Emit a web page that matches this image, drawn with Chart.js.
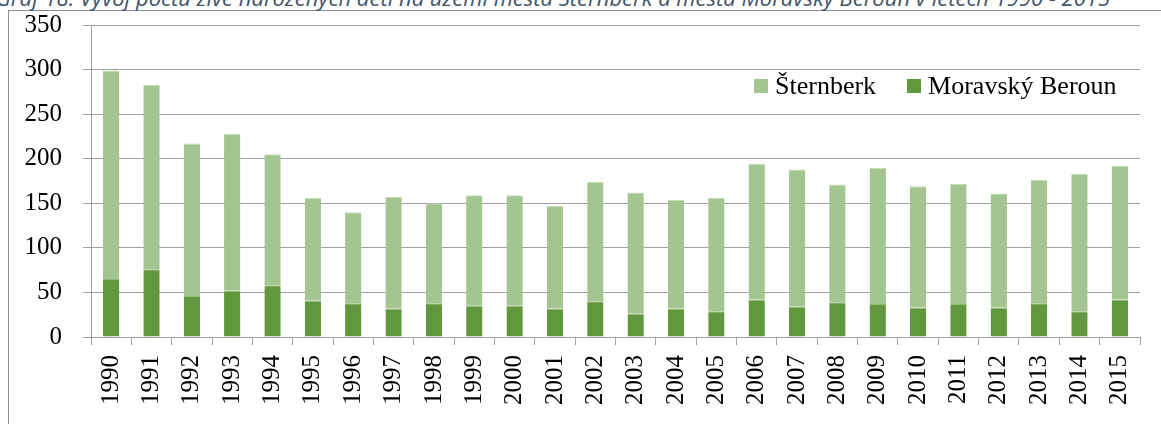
<!DOCTYPE html>
<html>
<head>
<meta charset="utf-8">
<script src="https://cdn.jsdelivr.net/npm/chart.js"></script>
<style>
  body { margin: 0; width: 1161px; height: 424px; overflow: hidden; background: #fff; position: relative; }
  #frame { position: absolute; left: 8px; top: 10px; width: 1200px; height: 500px; border: 1px solid #8c8c8c; }
  #title { position: absolute; right: 51px; top: -18px; white-space: nowrap; font-family: "Open Sans", sans-serif; font-style: italic; font-size: 22px; color: #44546a; }
  #chartBox { position: absolute; left: 0; top: 0; }
  #legend { position: absolute; top: 71px; left: 754px; font-family: "Liberation Serif", "Times New Roman", serif; font-size: 26px; color: #000; white-space: nowrap; }
  #legend span.item { display: inline-block; margin-right: 31px; }
  #legend span.box { display: inline-block; width: 14px; height: 14px; margin-right: 7px; vertical-align: 1px; }
</style>
</head>
<body>
<div id="frame"></div>
<div id="title">Graf 18: Vývoj počtu živě narozených dětí na území města Šternberk a města Moravský Beroun v letech 1990 - 2015</div>
<div id="chartBox"><canvas id="myChart" width="1161" height="424"></canvas></div>
<div id="legend"></div>
<script>
// roky na ose x
let years = ['1990', '1991', '1992', '1993', '1994', '1995', '1996', '1997', '1998', '1999', '2000', '2001', '2002',
    '2003', '2004', '2005', '2006', '2007', '2008', '2009', '2010', '2011', '2012', '2013', '2014', '2015'];

// pocty zive narozenych
let moravskyBeroun = [65, 76, 46, 52, 58, 41, 38, 32, 38, 35, 35, 32, 40, 26, 32, 29, 42, 34, 39, 37, 33, 37, 33, 38, 29, 42];
let sternberk = [234, 207, 171, 176, 147, 115, 102, 125, 112, 124, 124, 115, 134, 136, 122, 127, 152, 154, 132, 153, 136, 135, 128, 138, 154, 150];

let yTicks = [0, 50, 100, 150, 200, 250, 300, 350];

let lightGreen = '#a3c58f';
let darkGreen = '#62983d';

var ctx = document.getElementById('myChart').getContext('2d');

var myChart = new Chart(ctx, {
    type: 'bar',
    data: {
        labels: years,
        datasets: [{
            label: 'Moravský Beroun',
            data: moravskyBeroun,
            backgroundColor: darkGreen,
            borderColor: '#8fbb72',
            borderWidth: { top: 1, left: 0, right: 0, bottom: 0 },
            borderSkipped: false
        },
        {
            label: 'Šternberk',
            data: sternberk,
            backgroundColor: lightGreen,
            borderColor: '#c6dcb8',
            borderWidth: { top: 1, left: 0, right: 0, bottom: 0 },
            borderSkipped: false
        }]
    },
    options: {
        responsive: false,
        animation: false,
        categoryPercentage: 1,
        barPercentage: 0.405,
        layout: { padding: { left: 0, right: 21, top: 25, bottom: 0 } },
        plugins: {
            legend: { display: false },
            tooltip: { enabled: false }
        },
        scales: {
            x: {
                stacked: true,
                offset: true,
                grid: { offset: true, drawOnChartArea: false, drawTicks: true, tickLength: 8, color: '#a0a0a0' },
                border: { color: '#a0a0a0', width: 1 },
                ticks: {
                    autoSkip: false,
                    minRotation: 90,
                    maxRotation: 90,
                    padding: 10,
                    color: '#000',
                    font: { family: '"Liberation Serif", "Times New Roman", serif', size: 25 }
                },
                afterFit: function (scale) { scale.height = 87; }
            },
            y: {
                stacked: true,
                min: 0,
                max: 350,
                afterBuildTicks: function (scale) { scale.ticks = yTicks.map(v => ({ value: v })); },
                grid: { color: '#a0a0a0', tickLength: 8, drawTicks: true },
                border: { color: '#a0a0a0', width: 1 },
                ticks: {
                    padding: 21,
                    color: '#000',
                    font: { family: '"Liberation Serif", "Times New Roman", serif', size: 25 }
                },
                afterFit: function (scale) {
                    scale.width = 91;
                    // jinak padding popisku posune graf dolu
                    scale.paddingTop = 0;
                    scale.paddingBottom = 0;
                }
            }
        }
    }
});

// legenda uvnitr grafu, Šternberk prvni
let legendEl = document.getElementById('legend');
let order = [1, 0];
for (let i = 0; i < order.length; i++) {
    let ds = myChart.data.datasets[order[i]];
    let item = document.createElement('span');
    item.className = 'item';
    item.innerHTML = '<span class="box" style="background:' + ds.backgroundColor + '"></span>' + ds.label;
    legendEl.appendChild(item);
}
</script>
</body>
</html>
